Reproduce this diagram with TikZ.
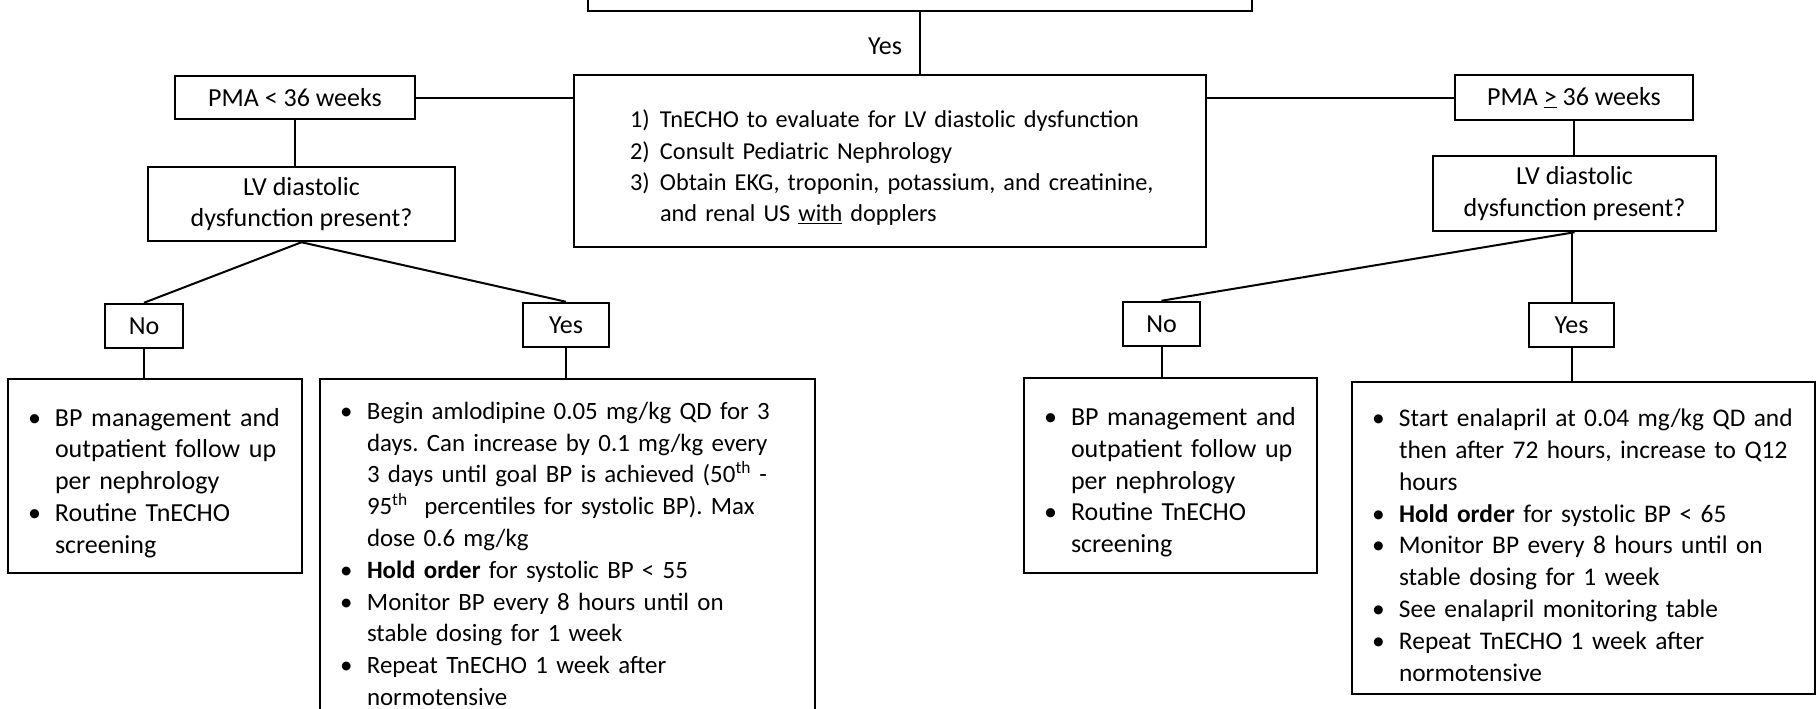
\documentclass[tikz,border=0pt]{standalone}
\usepackage{fontspec}
\setmainfont{Carlito}
\usetikzlibrary{positioning}
\usetikzlibrary{calc}
\frenchspacing

\newcommand{\bul}[1]{\par\hangindent=35pt\hangafter=1\noindent
  \hspace*{8pt}\makebox[27pt][l]{\textbullet}#1\par}
\newcommand{\numitem}[2]{\par\hangindent=74pt\hangafter=1\noindent
  \hspace*{44pt}\makebox[30pt][l]{#1}#2\par}

\tikzset{ box/.style = { draw
                       , line width = 2.5pt
                       , inner sep = 0pt
                       , align = center
                       , font = \fontsize{26pt}{31.7pt}\selectfont
                       }
        , listbox/.style = { box
                           , align = left
                           , text width = #1
                           }
        , conn/.style = { line width = 2pt }
        }

\begin{document}
\begin{tikzpicture}[x=1pt, y=-1pt]

  \useasboundingbox (0,0) rectangle (1817,709);
  \clip (0,0) rectangle (1817,709);

  % top box runs off the page
  \node (start) [box, minimum width=664pt, minimum height=60pt] at (920,-19) {};
  \node (tests) [listbox=608pt, minimum width=632pt, minimum height=172pt,
                 font=\fontsize{24.3pt}{31.2pt}\selectfont] at (890,161)
    {\numitem{1)}{TnECHO to evaluate for LV diastolic dysfunction}
     \numitem{2)}{Consult Pediatric Nephrology}
     \numitem{3)}{Obtain EKG, troponin, potassium, and creatinine,\newline
       and renal US \underline{with} dopplers}};
  \node (yes) [font=\fontsize{26pt}{31.7pt}\selectfont] at (885,46) {Yes};

  \node (pmalow)  [box, minimum width=240pt, minimum height=43pt] at (295,97.5)  {PMA < 36 weeks};
  \node (pmahigh) [box, minimum width=238pt, minimum height=45pt] at (1574,97.5) {PMA \underline{>} 36 weeks};
  \node (lvlow)   [box, minimum width=307pt, minimum height=74pt] at (301.5,204)   {LV diastolic\\dysfunction present?};
  \node (lvhigh)  [box, minimum width=283pt, minimum height=75pt] at (1574.5,193.5) {LV diastolic\\dysfunction present?};

  \node (nolow)   [box, minimum width=78pt, minimum height=44pt] at (144,326)    {No};
  \node (yeslow)  [box, minimum width=86pt, minimum height=44pt] at (566,325)    {Yes};
  \node (nohigh)  [box, minimum width=77pt, minimum height=44pt] at (1161.5,324) {No};
  \node (yeshigh) [box, minimum width=85pt, minimum height=44pt] at (1571.5,325) {Yes};

  \node (bplow) [listbox=270pt, minimum width=294pt, minimum height=194pt] at (155,476)
    {\bul{BP management and\newline outpatient follow up\newline per nephrology}
     \bul{Routine TnECHO\newline screening}};
  \node (amlo) [listbox=471pt, minimum width=495pt, minimum height=335pt,
                font=\fontsize{24.9pt}{31.8pt}\selectfont] at (567.5,546.5)
    {\bul{Begin amlodipine 0.05 mg/kg QD for 3\newline
       days. Can increase by 0.1 mg/kg every\newline
       3 days until goal BP is achieved (50\textsuperscript{th} -\newline
       95\textsuperscript{th}~ percentiles for systolic BP). Max\newline
       dose 0.6 mg/kg}
     \bul{\textbf{Hold order} for systolic BP < 55}
     \bul{Monitor BP every 8 hours until on\newline stable dosing for 1 week}
     \bul{Repeat TnECHO 1 week after\newline normotensive}};
  \node (bphigh) [listbox=269pt, minimum width=293pt, minimum height=195pt] at (1170.5,475.5)
    {\bul{BP management and\newline outpatient follow up\newline per nephrology}
     \bul{Routine TnECHO\newline screening}};
  \node (enal) [listbox=439pt, minimum width=463pt, minimum height=312pt,
                font=\fontsize{25.4pt}{31.8pt}\selectfont] at (1583.5,538)
    {\bul{Start enalapril at 0.04 mg/kg QD and\newline
       then after 72 hours, increase to Q12\newline hours}
     \bul{\textbf{Hold order} for systolic BP < 65}
     \bul{Monitor BP every 8 hours until on\newline stable dosing for 1 week}
     \bul{See enalapril monitoring table}
     \bul{Repeat TnECHO 1 week after\newline normotensive}};

  \draw [conn] (start.south) -- (start.south |- tests.north);
  \draw [conn] (pmalow.east) -- (pmalow.east -| tests.west);
  \draw [conn] (tests.east |- pmahigh.west) -- (pmahigh.west);
  \draw [conn] (pmalow.south) -- (pmalow.south |- lvlow.north);
  \draw [conn] (pmahigh.south) -- (pmahigh.south |- lvhigh.north);

  \draw [conn] (lvlow.south) -- (nolow.north);
  \draw [conn] (lvlow.south) -- (yeslow.north);
  \draw [conn] (lvhigh.south) -- (nohigh.north);
  \draw [conn] (lvhigh.south -| yeshigh.north) -- (yeshigh.north);

  \draw [conn] (nolow.south) -- (nolow.south |- bplow.north);
  \draw [conn] (yeslow.south) -- (yeslow.south |- amlo.north);
  \draw [conn] (nohigh.south) -- (nohigh.south |- bphigh.north);
  \draw [conn] (yeshigh.south) -- (yeshigh.south |- enal.north);

\end{tikzpicture}
\end{document}
